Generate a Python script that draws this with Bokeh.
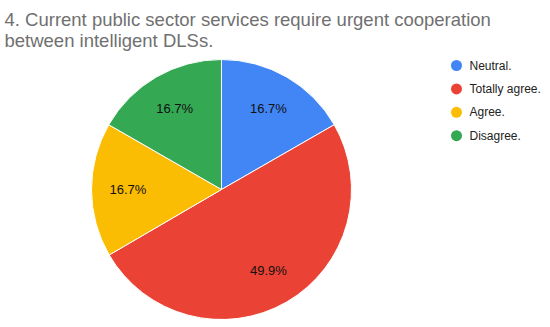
import math
from bokeh.plotting import figure
from bokeh.models import Range1d, ColumnDataSource
from bokeh.core.properties import value
from bokeh.embed import file_html
from bokeh.resources import INLINE

# ---- data ----
categories = ["Neutral.", "Totally agree.", "Agree.", "Disagree."]
percentages = [16.7, 49.9, 16.7, 16.7]
colors = ["#4285F4", "#EA4335", "#FBBC04", "#34A853"]
title_lines = ["4. Current public sector services require urgent cooperation",
               "between intelligent DLSs."]

# ---- layout (data units == pixels, y measured from top via H - y) ----
W, H = 542, 319
cx, cy, R = 221, H - 189, 130

p = figure(width=W, height=H, output_backend="svg", toolbar_location=None,
           x_range=Range1d(0, W), y_range=Range1d(0, H), min_border=0)
p.axis.visible = False
p.grid.visible = False
p.outline_line_color = None
p.background_fill_color = "white"
p.border_fill_color = "white"

total = sum(percentages)
starts, ends, lx, ly, labels = [], [], [], [], []
a = math.pi / 2
for v in percentages:
    sweep = 2 * math.pi * v / total
    starts.append(a)
    ends.append(a - sweep)
    mid = a - sweep / 2
    lx.append(cx + 0.72 * R * math.cos(mid))
    ly.append(cy + 0.72 * R * math.sin(mid))
    labels.append(f"{v:.1f}%")
    a -= sweep

src = ColumnDataSource(dict(start=starts, end=ends, color=colors,
                            lx=lx, ly=ly, label=labels, cat=categories))
p.wedge(x=cx, y=cy, radius=R, start_angle="start", end_angle="end",
        direction="clock", fill_color="color", line_color="white",
        line_width=1, source=src)
p.text(x="lx", y="ly", text="label", source=src, text_font=value("Liberation Sans"),
       text_font_size="13px", text_color="#111111", text_align="center",
       text_baseline="middle")

# legend
leg_y = [H - 65 - i * 23.4 for i in range(len(categories))]
src.data["legy"] = leg_y
p.scatter(x=456, y="legy", size=11, marker="circle", fill_color="color",
          line_color=None, source=src)
p.text(x=469, y="legy", text="cat", source=src, text_font=value("Liberation Sans"),
       text_font_size="12px", text_color="#222222", text_baseline="middle")

# title
p.text(x=[4, 4], y=[H - 19, H - 39.5], text=title_lines,
       text_font=value("Liberation Sans"), text_font_size="18.5px",
       text_color="#707070", text_baseline="alphabetic")

open("out.html", "w").write(file_html(p, INLINE))
